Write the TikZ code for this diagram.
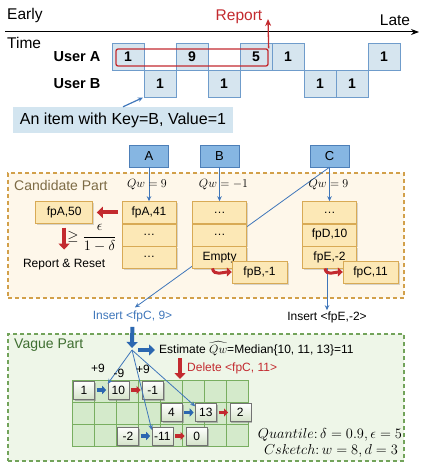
\documentclass[tikz,border=0pt]{standalone}
\usepackage{amsmath}
\usepackage{amssymb}
\usepackage{fontspec}
\setmainfont{Liberation Sans}
\usepackage{tikz}
\usetikzlibrary{positioning,arrows.meta,shadows}

\definecolor{tlfill}{HTML}{D6E5EF}
\definecolor{tlline}{HTML}{6F9CCB}
\definecolor{keyfill}{HTML}{86B6E2}
\definecolor{keyline}{HTML}{4D7FB8}
\definecolor{bkfill}{HTML}{FCE8B6}
\definecolor{bkline}{HTML}{D8AA55}
\definecolor{candfill}{HTML}{FEF7EA}
\definecolor{candline}{HTML}{D2A04A}
\definecolor{candtxt}{HTML}{7D6B45}
\definecolor{vagfill}{HTML}{EEF6E8}
\definecolor{vagline}{HTML}{72A35A}
\definecolor{vagtxt}{HTML}{3E6E30}
\definecolor{gfill}{HTML}{D4EACB}
\definecolor{gline}{HTML}{78AE60}
\definecolor{vgrey}{HTML}{D5E3CA}
\definecolor{repred}{HTML}{C32A2F}
\definecolor{arrblue}{HTML}{2B67B0}
\definecolor{thinblue}{HTML}{3F76BA}
\definecolor{itemfill}{HTML}{D3E5F0}

\tikzset{
  lbl/.style={font=\fontsize{12}{14}\selectfont, inner sep=1pt},
  biglbl/.style={font=\fontsize{15.5}{18}\selectfont, inner sep=1pt},
  userlbl/.style={font=\fontsize{14.5}{17}\selectfont\bfseries, inner sep=1pt},
  partlbl/.style={font=\fontsize{14}{16}\selectfont, inner sep=1pt, anchor=west},
  tcell/.style={draw=tlline, fill=tlfill, minimum width=32pt, minimum height=27pt, inner sep=0pt, font=\fontsize{14}{16}\selectfont\bfseries},
  repbox/.style={draw=repred, line width=1.3pt, rounded corners=2pt, minimum width=152pt, minimum height=17pt, inner sep=0pt},
  itembox/.style={fill=itemfill, minimum width=220pt, minimum height=26pt, inner sep=0pt, font=\fontsize{16}{19}\selectfont},
  keybox/.style={draw=keyline, fill=keyfill, minimum width=39pt, minimum height=22pt, inner sep=0pt, font=\fontsize{13}{15}\selectfont},
  bucket/.style={draw=bkline, fill=bkfill, minimum width=54pt, minimum height=22pt, inner sep=0pt, font=\fontsize{12}{14}\selectfont, drop shadow={shadow xshift=1.5pt, shadow yshift=-1.5pt, opacity=0.3}},
  candbox/.style={draw=candline, fill=candfill, line width=1.2pt, dash pattern=on 4pt off 3pt, minimum width=396pt, minimum height=125pt},
  vagbox/.style={draw=vagline, fill=vagfill, line width=1.2pt, dash pattern=on 4pt off 3pt, minimum width=396pt, minimum height=127pt},
  gcell/.style={draw=gline, fill=gfill, line width=0.8pt, minimum size=22pt, inner sep=0pt},
  vcell/.style={draw=black!55, top color=white, bottom color=vgrey, minimum width=21pt, minimum height=18pt, inner sep=0pt, font=\fontsize{12}{14}\selectfont, drop shadow={shadow xshift=1.5pt, shadow yshift=-1.5pt, opacity=0.5}},
  qwlbl/.style={font=\fontsize{12.5}{14}\selectfont, inner sep=0pt},
  mathlbl/.style={font=\fontsize{13.5}{15}\selectfont, inner sep=0pt},
  thinarrow/.style={draw=thinblue, line width=0.8pt, -{Stealth[length=5pt,width=4.5pt]}},
  redarrow/.style={draw=repred, line width=1.3pt, -{Stealth[length=7pt,width=6pt]}},
  fatred/.style={draw=repred, line width=4pt, -{Triangle[length=6pt,width=11pt]}},
  fatblue/.style={draw=arrblue, line width=4pt, -{Triangle[length=6pt,width=11pt]}},
  curvered/.style={draw=repred, line width=3pt, -{Triangle[length=5pt,width=9pt]}},
  smallblue/.style={draw=arrblue, line width=3.5pt, -{Triangle[length=4pt,width=8pt]}},
  smallred/.style={draw=repred, line width=3.5pt, -{Triangle[length=4pt,width=8pt]}}
}

\begin{document}
\begin{tikzpicture}[x=1pt, y=-1pt]
\useasboundingbox (0,0) rectangle (426,470);

% time line
\coordinate (tstart) at (5,32);
\coordinate (tend) at (419,32);
\draw[line width=1pt, -{Stealth[length=8pt,width=6pt]}] (tstart) -- (tend);
\node[biglbl, anchor=west] (early) at (6,15) {Early};
\node[biglbl] (late) at (395,20) {Late};
\node[biglbl, anchor=west] (time) at (6,43) {Time};
\node[userlbl] (usera) at (77,57) {User A};
\node[userlbl] (userb) at (77,84) {User B};

\foreach \n/\x/\v in {1/128/1,2/192/9,3/256/5,4/288/1,5/384/1}
  \node[tcell] (ua\n) at (\x,56.5) {\v};
\foreach \n/\x in {1/160,2/224,3/320,4/352}
  \node[tcell] (ub\n) at (\x,83.5) {1};

\node[repbox] (rep) at (192,57.5) {};
\coordinate (reptip) at (268,19);
\draw[redarrow] (rep.north east) -- (reptip);
\node[biglbl, text=repred] (report) at (239,17) {Report};

\node[itembox] (item) at (123,120) {An item with Key=B, Value=1};
\draw[thinarrow, line width=1.2pt, shorten >=1pt] (item.north) -- (ub1.south west);

% candidate part
\node[candbox] (cand) at (206,235.5) {};
\node[partlbl, text=candtxt] (candlbl) at (13,185) {Candidate Part};

\node[keybox] (ka) at (149,156) {A};
\node[keybox] (kb) at (219.5,156) {B};
\node[keybox] (kc) at (329.5,156) {C};

\node[lbl, text=thinblue] (ins9) at (132.5,316) {Insert <fpC, 9>};
\node[lbl] (insE) at (327,317) {Insert <fpE,-2>};
\draw[thinarrow, shorten >=3pt] (kc.south) -- (ins9.north);

\node[bucket, below=34pt of ka] (a1) {fpA,41};
\node[bucket, below=0pt of a1] (a2) {\dots};
\node[bucket, below=0pt of a2] (a3) {\dots};
\node[bucket, below=34pt of kb] (b1) {\dots};
\node[bucket, below=0pt of b1] (b2) {\dots};
\node[bucket, below=0pt of b2] (b3) {Empty};
\node[bucket, below=34pt of kc] (c1) {\dots};
\node[bucket, below=0pt of c1] (c2) {fpD,10};
\node[bucket, below=0pt of c2] (c3) {fpE,-2};

\draw[thinarrow] (ka) -- node[qwlbl, xshift=-2pt] {$Qw = 9$} (a1);
\draw[thinarrow] (kb) -- node[qwlbl, xshift=4pt] {$Qw = -1$} (b1);
\draw[thinarrow] (kc) -- node[qwlbl, xshift=-1pt] {$Qw = 9$} (c1);

\node[bucket, minimum width=57pt, left=29pt of a1] (fa50) {fpA,50};
\draw[fatred, shorten <=4pt, shorten >=4pt] (a1) -- (fa50);
\node[lbl, below=34pt of fa50] (reset) {Report \& Reset};
\draw[fatred, shorten <=4pt, shorten >=8pt] (fa50) -- (reset);
\node[mathlbl] (thr) at (92,238) {$\geq\dfrac{\epsilon}{1-\delta}$};

\node[bucket, minimum width=55pt] (fpb) at (259.5,272) {fpB,-1};
\node[bucket, minimum width=55pt] (fpc) at (370.5,272) {fpC,11};
\draw[curvered] ([xshift=-7pt]b3.south) .. controls +(1,8) and +(-8,0) .. (fpb.west);
\draw[thinarrow] ([xshift=-2.5pt]c3.south) -- (insE.north);
\draw[curvered] ([xshift=-4.5pt]c3.south) .. controls +(1,8) and +(-8,0) .. (fpc.west);

% vague part
\node[vagbox] (vag) at (206,397.5) {};
\node[partlbl, text=vagtxt] (vaglbl) at (13,345) {Vague Part};

\coordinate (hub) at (132,350);
\draw[fatblue, shorten <=4pt, shorten >=2pt] (ins9) -- (hub);
\node[lbl, anchor=west] (est) at (158,349) {Estimate $\widehat{Qw}$=Median\{10, 11, 13\}=11};
\draw[fatblue, shorten <=6pt, shorten >=3pt] (hub) -- (est.west |- hub);
\coordinate (deltop) at (180,358);
\coordinate (delbot) at (180,379);
\draw[fatred] (deltop) -- (delbot);
\node[lbl, text=repred, anchor=west] (del) at (186,368) {Delete <fpC, 11>};

\foreach \r in {0,1,2}
  \foreach \c in {0,...,7}
    \node[gcell] (g\r\c) at ({83+22*\c},{391+22*\r}) {};

\node[vcell] (v1) at (84,390) {1};
\node[vcell, right=13pt of v1] (v10) {10};
\node[vcell, right=13pt of v10] (vm1) {-1};
\node[vcell] (v4) at (171.5,412.5) {4};
\node[vcell, right=13pt of v4] (v13) {13};
\node[vcell, right=13pt of v13] (v2) {2};
\node[vcell] (vm2) at (128,436) {-2};
\node[vcell, right=13pt of vm2] (vm11) {-11};
\node[vcell, right=13pt of vm11] (v0) {0};

\draw[smallblue, shorten <=2pt, shorten >=1.5pt] (v1) -- (v10);
\draw[smallred, shorten <=2pt, shorten >=1.5pt] (v10) -- (vm1);
\draw[smallblue, shorten <=2pt, shorten >=1.5pt] (v4) -- (v13);
\draw[smallred, shorten <=2pt, shorten >=1.5pt] (v13) -- (v2);
\draw[smallblue, shorten <=2pt, shorten >=1.5pt] (vm2) -- (vm11);
\draw[smallred, shorten <=2pt, shorten >=1.5pt] (vm11) -- (v0);

\draw[thinarrow] (hub) -- ([yshift=-3pt]v10.north west);
\draw[thinarrow] (hub) -- ([yshift=-3pt]vm11.north west);
\draw[thinarrow] (hub) -- ([yshift=-3pt]v13.north west);
\node[lbl] (p1) at (98,368) {+9};
\node[lbl] (m1) at (119,373) {-9};
\node[lbl] (p2) at (143,369) {+9};

\node[mathlbl] (qtl) at (330,435) {$Quantile{:}\,\delta = 0.9, \epsilon = 5$};
\node[mathlbl] (csk) at (331,451) {$Csketch{:}\,w = 8, d = 3$};
\end{tikzpicture}
\end{document}
